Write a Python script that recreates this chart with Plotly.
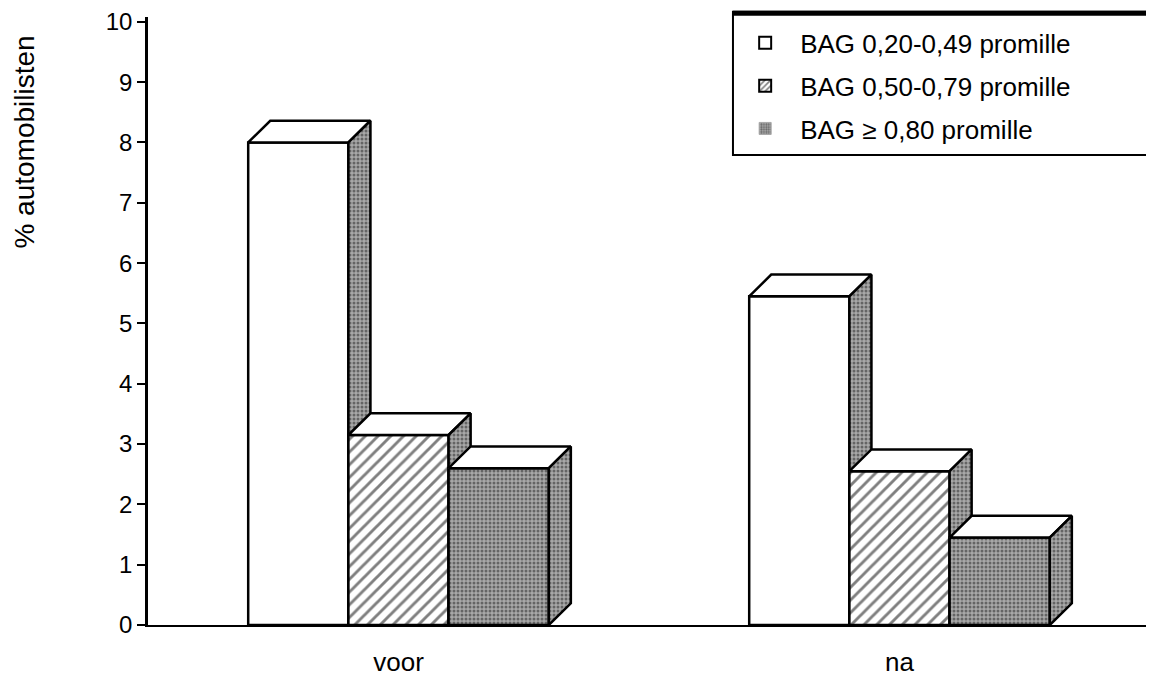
import plotly.graph_objects as go

# ---- data ----
categories = ["voor", "na"]
series_names = ["BAG 0,20-0,49 promille", "BAG 0,50-0,79 promille", "BAG \u2265 0,80 promille"]
bag_020_049 = [8.0, 5.45]
bag_050_079 = [3.15, 2.55]
bag_080_plus = [2.6, 1.45]
y_tick_values = [0, 1, 2, 3, 4, 5, 6, 7, 8, 9, 10]

series_values = [bag_020_049, bag_050_079, bag_080_plus]

# ---- layout constants ----
group_centers = [2.5, 7.5]
bar_width = 1.0
offsets = [-1.0, 0.0, 1.0]
DX, DY = 0.22, 0.36
FONT = "Liberation Sans, Arial, sans-serif"
EDGE = dict(color="black", width=2.5)

GRAY_PAT = dict(shape=".", fgcolor="#202020", bgcolor="#a8a8a8", size=4, solidity=0.45)
HATCH_PAT = dict(shape="/", fgcolor="black", bgcolor="white", size=9, solidity=0.32)
front_styles = [
    dict(fillcolor="white", fillpattern=None),
    dict(fillcolor="white", fillpattern=HATCH_PAT),
    dict(fillcolor="#a8a8a8", fillpattern=GRAY_PAT),
]

fig = go.Figure()


def poly(xs, ys, fillcolor, pattern):
    kw = dict(x=xs, y=ys, mode="lines", fill="toself", fillcolor=fillcolor,
              line=EDGE, showlegend=False, hoverinfo="skip")
    if pattern is not None:
        kw["fillpattern"] = pattern
    fig.add_trace(go.Scatter(**kw))


for gi, c in enumerate(group_centers):
    for si, vals in enumerate(series_values):
        v = vals[gi]
        x0 = c + offsets[si] - bar_width / 2
        x1 = x0 + bar_width
        st = front_styles[si]
        # front face
        poly([x0, x1, x1, x0, x0], [0, 0, v, v, 0], st["fillcolor"], st["fillpattern"])
        # top face
        poly([x0, x0 + DX, x1 + DX, x1, x0], [v, v + DY, v + DY, v, v], "white", None)
        # side face
        poly([x1, x1 + DX, x1 + DX, x1, x1], [0, DY, v + DY, v, 0], "#a8a8a8", GRAY_PAT)

# legend entries
legend_markers = [
    dict(color="white", line=dict(color="black", width=2)),
    dict(color="white", line=dict(color="black", width=2), pattern=dict(shape="/", fgcolor="black", bgcolor="white", size=5, solidity=0.4)),
    dict(color="#a8a8a8", line=dict(color="#a8a8a8", width=1), pattern=dict(shape=".", fgcolor="#202020", bgcolor="#a8a8a8", size=3, solidity=0.45)),
]
for name, mk in zip(series_names, legend_markers):
    fig.add_trace(go.Bar(x=[None], y=[None], name=name, marker=mk, legendgroup=name))

fig.update_layout(
    width=1154, height=672,
    margin=dict(l=140, r=12, t=9, b=55),
    paper_bgcolor="white", plot_bgcolor="white",
    font=dict(family=FONT, color="black"),
    showlegend=True,
    legend=dict(x=0.581, y=0.996, xanchor="left", yanchor="top",
                borderwidth=0, bgcolor="rgba(0,0,0,0)",
                font=dict(size=26, family=FONT), tracegroupgap=6,
                itemwidth=60),
    xaxis=dict(range=[0, 10], tickvals=group_centers, ticktext=categories,
               showgrid=False, zeroline=False, showline=True, linecolor="black",
               linewidth=2, ticks="", ticklabelstandoff=13, automargin=False,
               tickfont=dict(size=26, family=FONT)),
    yaxis=dict(range=[0, 10.08], tickvals=y_tick_values, showgrid=False, zeroline=False,
               showline=True, linecolor="black", linewidth=2.5, ticks="outside",
               ticklen=8, tickwidth=2, tickcolor="black", automargin=False,
               ticklabeloverflow="allow",
               tickfont=dict(size=24, family=FONT)),
    shapes=[
        dict(type="rect", xref="paper", yref="paper", x0=0.5838, x1=1.03, y0=0.7730, y1=1.0086,
             line=dict(color="black", width=2), fillcolor="rgba(0,0,0,0)"),
        dict(type="line", xref="paper", yref="paper", x0=0.5838, x1=1.03, y0=1.0060, y1=1.0060,
             line=dict(color="black", width=5)),
    ],
    annotations=[dict(text="% automobilisten", textangle=-90, xref="paper", yref="paper",
                      x=-0.1228, y=0.795, xanchor="center", yanchor="middle", showarrow=False,
                      font=dict(size=28, family=FONT))],
)

fig.write_html("out.html")
